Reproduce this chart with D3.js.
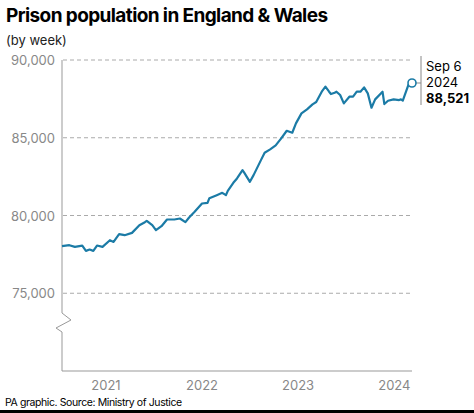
<!DOCTYPE html>
<html><head><meta charset="utf-8">
<script src="https://cdn.jsdelivr.net/npm/d3@7"></script>
<style>body{margin:0;background:#fff;font-family:Inter,"Liberation Sans",sans-serif;}</style>
</head><body>
<svg id="c" width="474" height="413"></svg>
<script>
'use strict';

var START = '2021-01-15';
var weeks = [0,4,7,11,13,15,17,19,22,26,28,31,34,38,42,45,46,49,51,54,57,61,64,67,69,72,76,79,80,84,87,89,90,93,95,98,99,102,104,108,110,113,116,119,122,125,127,130,133,136,138,141,143,145,146,148,149,151,153,156,158,160,162,164,166,168,170,174,175,177,180,183,184,185,188,190];
var population = [78026,78090,77982,78068,77725,77811,77725,78068,77982,78410,78303,78797,78733,78883,79377,79570,79656,79377,79055,79313,79742,79742,79807,79570,79871,80236,80772,80815,81115,81309,81459,81309,81588,82103,82382,82918,82746,82167,82596,83562,84034,84249,84506,84957,85450,85322,85923,86566,86824,87146,87296,87961,88283,87961,87811,87897,87961,87747,87210,87639,87639,87961,87961,88240,87854,86931,87468,87961,87167,87382,87468,87425,87468,87382,88391,88521];
var yTicks = [75000, 80000, 85000, 90000];
var yearLabels = [2021, 2022, 2023, 2024];

var svg = d3.select('#c');
var start = d3.isoParse(START);
var data = weeks.map(function (w, i) { return { date: d3.timeDay.offset(start, w * 7), value: population[i] }; });
var last = data[data.length - 1];

var x = d3.scaleTime().domain([start, last.date]).range([62, 412]);
var y = d3.scaleLinear().domain([70000, 90000]).range([371, 60]);

// title
svg.append('text').attr('x', 6).attr('y', 22).attr('font-size', 19).attr('font-weight', 700)
    .attr('letter-spacing', -0.6).text('Prison population in England & Wales');
svg.append('text').attr('x', 6).attr('y', 45).attr('font-size', 13).attr('fill', '#222').text('(by week)');

// grid
svg.selectAll('.grid').data(yTicks).enter().append('line')
    .attr('x1', 63).attr('x2', 410).attr('y1', function (d) { return y(d); }).attr('y2', function (d) { return y(d); })
    .attr('stroke', '#aaa').attr('stroke-dasharray', '4,3');
svg.selectAll('.yl').data(yTicks).enter().append('text')
    .attr('x', 55).attr('y', function (d) { return y(d) + 5; }).attr('text-anchor', 'end')
    .attr('font-size', 13).attr('fill', '#888').text(d3.format(','));

// axes with break
svg.append('path').attr('fill', 'none').attr('stroke', '#999')
    .attr('d', 'M62,' + y(90000) + 'V313L71,320L56,328L62,332V371H412');

svg.selectAll('.xl').data(yearLabels).enter().append('text')
    .attr('x', function (d) { return x(new Date(d, 6, 1)); }).attr('y', 390)
    .attr('text-anchor', 'middle').attr('font-size', 13).attr('fill', '#888').text(String);

// line
svg.append('path').datum(data).attr('fill', 'none').attr('stroke', '#1b7ba6').attr('stroke-width', 2.2)
    .attr('stroke-linejoin', 'round')
    .attr('d', d3.line().x(function (d) { return x(d.date); }).y(function (d) { return y(d.value); }));

// end marker + label
var ex = x(last.date), ey = y(last.value);
svg.append('line').attr('x1', ex + 4).attr('x2', 421).attr('y1', ey).attr('y2', ey).attr('stroke', '#888');
svg.append('line').attr('x1', 421).attr('x2', 421).attr('y1', 56).attr('y2', 105).attr('stroke', '#888');
svg.append('circle').attr('cx', ex).attr('cy', ey).attr('r', 4).attr('fill', '#fff')
    .attr('stroke', '#1b7ba6').attr('stroke-width', 1.6);
svg.append('text').attr('x', 426).attr('y', 71).attr('font-size', 13).text('Sep 6');
svg.append('text').attr('x', 426).attr('y', 87).attr('font-size', 13).text('2024');
svg.append('text').attr('x', 426).attr('y', 103).attr('font-size', 13).attr('font-weight', 700)
    .text(d3.format(',')(last.value));

// footer
svg.append('text').attr('x', 5).attr('y', 406).attr('font-size', 10.5).attr('letter-spacing', -0.4)
    .text('PA graphic. Source: Ministry of Justice');
svg.append('rect').attr('x', 0).attr('y', 410).attr('width', 474).attr('height', 3).attr('fill', '#000');
</script>
</body></html>
